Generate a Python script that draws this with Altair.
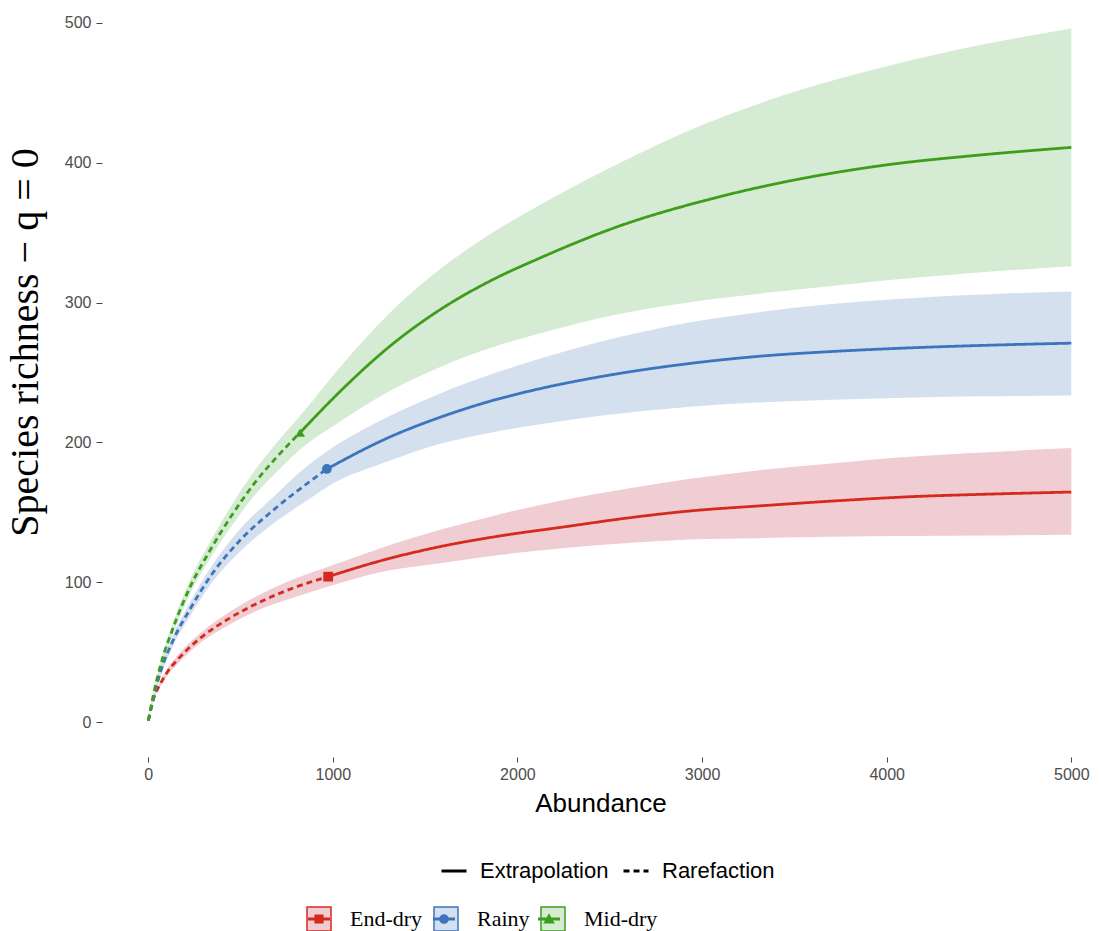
import altair as alt
import pandas as pd

seasons = ["End-dry", "Rainy", "Mid-dry"]
methods = ["Extrapolation", "Rarefaction"]
line_colors = ["#D62A1E", "#3B75BD", "#3E9E1B"]
band_colors = ["#F0CDD2", "#D5E0EF", "#D5EBD3"]
marker_shapes = ["square", "circle", "triangle-up"]

# End-dry
ed_rare_x = [1, 30, 65, 105, 155, 282, 444, 624, 805, 975]
ed_rare_y = [1, 17, 27, 36, 44, 60, 74.5, 87, 96.8, 104]
ed_rare_lo = [1, 16, 25, 33.5, 41, 56.5, 70, 81.5, 89.8, 97]
ed_rare_hi = [1, 18, 29, 38.5, 47, 63.5, 79, 92.5, 103, 111]
ed_ext_x = [975, 1250, 1582, 1900, 2259, 2600, 2936, 3300, 3700, 4100, 4550, 5000]
ed_ext_y = [104, 115, 125.5, 133, 139.7, 146, 151, 154.5, 158, 161, 163, 164.5]
ed_ext_lo = [97, 107, 113.6, 119.5, 124.5, 128, 130.5, 131.5, 132.5, 133, 133.5, 134]
ed_ext_hi = [111, 124, 137.5, 148.5, 159, 167, 174, 180, 185, 189.5, 193, 196]

# Rainy
rn_rare_x = [1, 65, 137, 228, 336, 498, 678, 860, 968]
rn_rare_y = [1, 35, 59, 81, 104, 130, 151.6, 170.5, 181]
rn_rare_lo = [1, 32, 55, 76, 98, 122, 142, 158.5, 168]
rn_rare_hi = [1, 38, 63, 86, 110, 138, 161, 183, 193.5]
rn_ext_x = [968, 1311, 1582, 1853, 2124, 2449, 2936, 3300, 3700, 4100, 4550, 5000]
rn_ext_y = [181, 204, 218, 229.5, 238.5, 247, 256.5, 261.5, 265, 267.5, 269.5, 271]
rn_ext_lo = [168, 187, 199, 207, 213, 219, 225.5, 228.5, 230.5, 232, 233, 233.5]
rn_ext_hi = [193.5, 219, 235, 248.5, 260, 272, 286, 293, 299, 303, 306, 308]

# Mid-dry
md_rare_x = [1, 29, 65, 137, 228, 336, 461, 589, 697, 823]
md_rare_y = [1, 20, 39.6, 68, 96.8, 123, 149.5, 173, 189.6, 207]
md_rare_lo = [1, 18, 37, 64, 92, 117, 142, 164, 179, 195]
md_rare_hi = [1, 22, 42, 72, 102, 129, 157, 182, 200, 219]
md_ext_x = [823, 1040, 1311, 1582, 1853, 2124, 2557, 3000, 3532, 4000, 4500, 5000]
md_ext_y = [207, 236.5, 269, 295, 315.5, 332, 355, 372.5, 388.5, 398.5, 405.5, 411]
md_ext_lo = [195, 215, 237, 254, 267.5, 278, 292, 301.5, 309.5, 316, 321.5, 326]
md_ext_hi = [219, 254, 293, 324, 349, 370, 400, 427, 452, 469, 484, 496]

x_ticks = [0, 1000, 2000, 3000, 4000, 5000]
y_ticks = [0, 100, 200, 300, 400, 500]

# legend glyphs: short line with the marker on it (unit coordinates)
legend_glyphs = [
    "M-1,-0.13L1,-0.13L1,0.13L-1,0.13Z M-0.42,-0.42L0.42,-0.42L0.42,0.42L-0.42,0.42Z",
    "M-1,-0.13L1,-0.13L1,0.13L-1,0.13Z M-0.44,0A0.44,0.44 0 1,1 0.44,0A0.44,0.44 0 1,1 -0.44,0Z",
    "M-1,-0.13L1,-0.13L1,0.13L-1,0.13Z M0,-0.52L0.52,0.4L-0.52,0.4Z",
]

series = [
    ("End-dry", ed_rare_x, ed_rare_y, ed_rare_lo, ed_rare_hi, ed_ext_x, ed_ext_y, ed_ext_lo, ed_ext_hi),
    ("Rainy", rn_rare_x, rn_rare_y, rn_rare_lo, rn_rare_hi, rn_ext_x, rn_ext_y, rn_ext_lo, rn_ext_hi),
    ("Mid-dry", md_rare_x, md_rare_y, md_rare_lo, md_rare_hi, md_ext_x, md_ext_y, md_ext_lo, md_ext_hi),
]

rows = []
ref_rows = []
for s, rx, ry, rlo, rhi, ex, ey, elo, ehi in series:
    for a, b, c, d in zip(rx, ry, rlo, rhi):
        rows.append({"season": s, "method": "Rarefaction", "x": a, "y": b, "lo": c, "hi": d})
    for a, b, c, d in zip(ex, ey, elo, ehi):
        rows.append({"season": s, "method": "Extrapolation", "x": a, "y": b, "lo": c, "hi": d})
    ref_rows.append({"season": s, "mark": s + "\u200b", "x": rx[-1], "y": ry[-1]})

df = pd.DataFrame(rows)
ref_df = pd.DataFrame(ref_rows)
marker_keys = [s + "\u200b" for s in seasons]

x_enc = alt.X(
    "x:Q",
    scale=alt.Scale(domain=[-250, 5150], nice=False, zero=False),
    axis=alt.Axis(
        values=x_ticks, format="d", title="Abundance", grid=False, domain=False,
        tickSize=5, tickColor="#444444", labelColor="#4D4D4D", labelFont="Liberation Sans",
        labelFontSize=16, labelPadding=4, titleFont="Liberation Sans", titleFontSize=26,
        titleFontWeight="normal", titleColor="black", titlePadding=8,
    ),
)
y_axis = alt.Axis(
    values=y_ticks, format="d", title="Species richness \u2212 q = 0", grid=False, domain=False,
    tickSize=6, tickColor="#444444", labelColor="#4D4D4D", labelFont="Liberation Sans",
    labelFontSize=16, labelPadding=5, titleFont="Liberation Serif", titleFontSize=40,
    titleFontWeight="normal", titleColor="black", titlePadding=19, titleY=340,
)
y_scale = alt.Scale(domain=[-25, 515], nice=False, zero=False)

LF = alt.Legend(
    title=None, orient="none", direction="horizontal", legendX=204, legendY=904,
    symbolType="square", symbolSize=576, symbolStrokeWidth=1.5, symbolOpacity=1,
    labelFont="Liberation Serif", labelFontSize=22, labelColor="black", labelOffset=18,
    columnPadding=8, padding=0,
)
LS = alt.Legend(
    title=None, orient="none", direction="horizontal", legendX=206, legendY=906,
    symbolSize=484, symbolOpacity=1, symbolStrokeWidth=0,
    labelFont="Liberation Serif", labelFontSize=22, labelOpacity=0, labelOffset=22,
    columnPadding=8, padding=0,
)
LD = alt.Legend(
    title=None, orient="none", direction="horizontal", legendX=338, legendY=855,
    symbolType="stroke", symbolSize=625, symbolStrokeWidth=3, symbolStrokeColor="black",
    labelFont="Liberation Sans", labelFontSize=22, labelColor="black", labelOffset=12,
    columnPadding=8, padding=0,
)

bands = alt.Chart(df).mark_area(opacity=1, interpolate="monotone").encode(
    x=x_enc,
    y=alt.Y("lo:Q", scale=y_scale, axis=y_axis),
    y2="hi:Q",
    fill=alt.Fill("season:N", scale=alt.Scale(domain=seasons, range=band_colors), legend=LF),
)

lines = alt.Chart(df).mark_line(strokeWidth=2.8, interpolate="monotone").encode(
    x=x_enc,
    y=alt.Y("y:Q", scale=y_scale, axis=y_axis),
    stroke=alt.Stroke("season:N", scale=alt.Scale(domain=seasons, range=line_colors), legend=LF),
    strokeDash=alt.StrokeDash("method:N", scale=alt.Scale(domain=methods, range=[[1, 0], [6, 4]]), legend=LD),
    detail="season:N",
)

point_layers = []
for s, col, shp in zip(seasons, line_colors, marker_shapes):
    point_layers.append(
        alt.Chart(ref_df[ref_df["season"] == s]).mark_point(
            filled=True, size=95, opacity=1, color=col, shape=shp
        ).encode(x=x_enc, y=alt.Y("y:Q", scale=y_scale, axis=y_axis))
    )

# invisible layer that only carries the marker legend (glyph drawn inside each box)
legend_layer = alt.Chart(ref_df).mark_point(filled=True, size=484, opacity=0).encode(
    x=x_enc,
    y=alt.Y("y:Q", scale=y_scale, axis=y_axis),
    color=alt.Color("mark:N", scale=alt.Scale(domain=marker_keys, range=line_colors), legend=LS),
    shape=alt.Shape("mark:N", scale=alt.Scale(domain=marker_keys, range=legend_glyphs), legend=LS),
)

chart = alt.layer(bands, lines, *point_layers, legend_layer).properties(
    width=997, height=755,
    padding={"left": 102, "top": 2, "right": 0, "bottom": 174},
    autosize=alt.AutoSizeParams(type="none"),
    background="white",
).configure_view(stroke=None)

chart.save("out.html", embed_options={"renderer": "svg", "actions": False})
